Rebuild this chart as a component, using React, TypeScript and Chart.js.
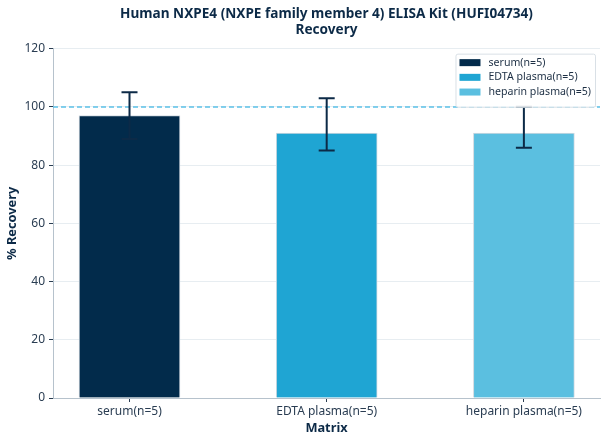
import React, { useEffect, useRef } from 'react';
import { Chart, registerables } from 'chart.js';

Chart.register(...registerables);

const categories = ['serum(n=5)', 'EDTA plasma(n=5)', 'heparin plasma(n=5)'];
const recovery = [97, 91, 91];
const errLow = [89, 85, 86];
const errHigh = [105, 103, 100];
const barColors = ['#022b4b', '#1fa5d3', '#5bbfe0'];
const yTickValues = [0, 20, 40, 60, 80, 100, 120];
const referenceValue = 100;
const titleLines = ['Human NXPE4 (NXPE family member 4) ELISA Kit (HUFI04734)', 'Recovery'];

const FONT = "'Noto Sans', 'Open Sans', sans-serif";
const NAVY = '#0c2a47';
const TICK_COLOR = '#2a3d52';

const refLinePlugin = {
  id: 'refLine',
  afterDatasetsDraw(chart: any) {
    const { ctx, chartArea, scales } = chart;
    const y = Math.round(scales.y.getPixelForValue(referenceValue));
    ctx.save();
    ctx.strokeStyle = '#5cc1e7';
    ctx.lineWidth = 1.6;
    ctx.setLineDash([5, 3]);
    ctx.beginPath();
    ctx.moveTo(chartArea.left, y);
    ctx.lineTo(chartArea.right, y);
    ctx.stroke();
    ctx.restore();
  },
};

const errorBarPlugin = {
  id: 'errorBars',
  afterDatasetsDraw(chart: any) {
    const { ctx, scales } = chart;
    ctx.save();
    ctx.strokeStyle = NAVY;
    ctx.lineWidth = 2;
    ctx.setLineDash([]);
    categories.forEach((_, i) => {
      const x = scales.x.getPixelForValue(i);
      const yl = scales.y.getPixelForValue(errLow[i]);
      const yh = scales.y.getPixelForValue(errHigh[i]);
      const cap = 8;
      ctx.beginPath();
      ctx.moveTo(x, yl);
      ctx.lineTo(x, yh);
      ctx.moveTo(x - cap, yh);
      ctx.lineTo(x + cap, yh);
      ctx.moveTo(x - cap, yl);
      ctx.lineTo(x + cap, yl);
      ctx.stroke();
    });
    ctx.restore();
  },
};

const legendBoxPlugin = {
  id: 'legendBox',
  afterDraw(chart: any) {
    const { ctx, chartArea } = chart;
    const boxRight = chartArea.right - 5;
    const boxTop = chartArea.top + 5;
    const rowH = 14.7;
    ctx.save();
    ctx.font = `10.6px ${FONT}`;
    const textW = Math.max(...categories.map((c) => ctx.measureText(c).width));
    const boxW = 4 + 21 + 8 + textW + 4;
    const boxH = 6 + rowH * categories.length + 3;
    const boxLeft = boxRight - boxW;
    ctx.fillStyle = 'rgba(255,255,255,0.85)';
    ctx.strokeStyle = '#d9e0e6';
    ctx.lineWidth = 1;
    ctx.beginPath();
    ctx.roundRect(boxLeft + 0.5, boxTop + 0.5, boxW, boxH, 2);
    ctx.fill();
    ctx.stroke();
    categories.forEach((c, i) => {
      const cy = boxTop + 9 + rowH * i;
      ctx.fillStyle = barColors[i];
      ctx.fillRect(boxLeft + 4, cy - 3.5, 21, 7);
      ctx.fillStyle = '#1d2f44';
      ctx.textBaseline = 'middle';
      ctx.textAlign = 'left';
      ctx.fillText(c, boxLeft + 4 + 21 + 8, cy);
    });
    ctx.restore();
  },
};

export default function App() {
  const canvasRef = useRef<HTMLCanvasElement | null>(null);

  useEffect(() => {
    document.body.style.margin = '0';
    const canvas = canvasRef.current;
    if (!canvas) return;
    const chart = new Chart(canvas, {
      type: 'bar',
      data: {
        datasets: categories.map((c, i) => ({
          label: c,
          data: [{ x: i, y: recovery[i] }],
          backgroundColor: barColors[i],
          borderColor: '#d3dae1',
          borderWidth: 1,
          barThickness: 101,
          grouped: false,
        })),
      },
      options: {
        animation: false,
        responsive: false,
        maintainAspectRatio: false,
        devicePixelRatio: 1,
        layout: { padding: { left: 0, right: 8, top: 0, bottom: 0 } },
        plugins: {
          legend: { display: false },
          tooltip: { enabled: false },
          title: {
            display: true,
            text: titleLines,
            fullSize: false,
            color: NAVY,
            font: { family: FONT, size: 13.6, weight: 'bold', lineHeight: 1.2 },
            padding: { top: 6, bottom: 10 },
          },
        },
        scales: {
          x: {
            type: 'linear',
            offset: false,
            min: -0.388,
            max: 2.386,
            afterBuildTicks: (scale: any) => {
              scale.ticks = categories.map((_, i) => ({ value: i }));
            },
            afterFit: (scale: any) => {
              scale.height = 46;
            },
            ticks: {
              autoSkip: false,
              maxRotation: 0,
              color: TICK_COLOR,
              font: { family: FONT, size: 12 },
              padding: 2,
              callback: (v: any) => categories[v as number] ?? '',
            },
            grid: { display: true, offset: false, drawOnChartArea: false, drawTicks: true, tickLength: 4, tickColor: TICK_COLOR },
            border: { display: true, color: '#b6c2cc', width: 1 },
            title: {
              display: true,
              text: 'Matrix',
              color: NAVY,
              font: { family: FONT, size: 12.8, weight: 'bold' },
              padding: { top: 0, bottom: 8 },
            },
          },
          y: {
            min: 0,
            max: 120,
            afterBuildTicks: (scale: any) => {
              scale.ticks = yTickValues.map((v) => ({ value: v }));
            },
            afterFit: (scale: any) => {
              scale.width = 53;
            },
            ticks: {
              color: TICK_COLOR,
              font: { family: FONT, size: 12 },
              padding: 4,
            },
            grid: { color: '#e7edf1', lineWidth: 1, drawTicks: true, tickLength: 4, tickColor: TICK_COLOR },
            border: { display: true, color: '#b6c2cc', width: 1 },
            title: {
              display: true,
              text: '% Recovery',
              color: NAVY,
              font: { family: FONT, size: 12.8, weight: 'bold' },
              padding: { top: 5, bottom: 0 },
            },
          },
        },
      },
      plugins: [refLinePlugin, errorBarPlugin, legendBoxPlugin],
    } as any);
    return () => chart.destroy();
  }, []);

  return (
    <div style={{ width: 608, height: 444 }}>
      <canvas ref={canvasRef} width={608} height={444} style={{ width: 608, height: 444, display: 'block' }} />
    </div>
  );
}
